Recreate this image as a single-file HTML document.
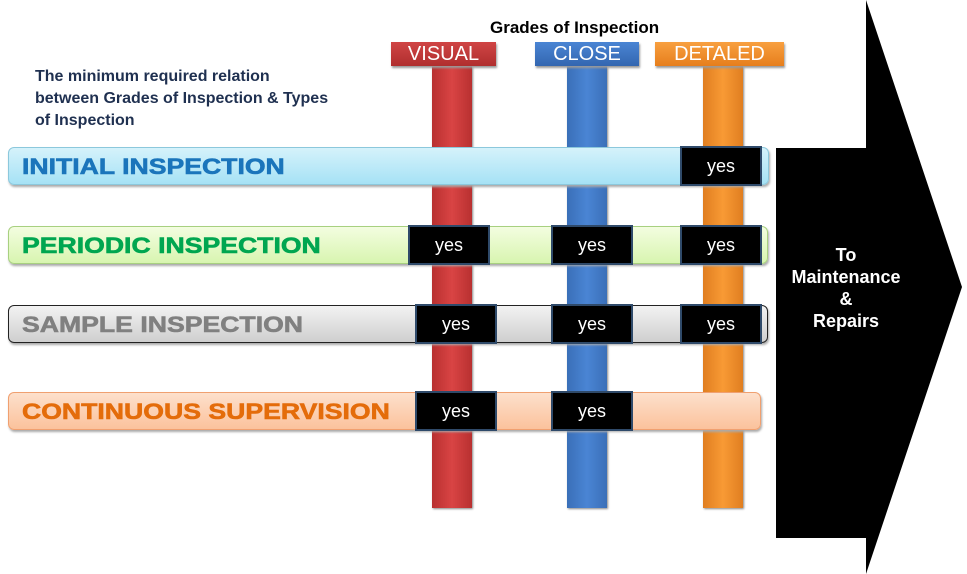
<!DOCTYPE html>
<html><head><style>
body{margin:0;width:967px;height:574px;background:#fff;position:relative;overflow:hidden;font-family:"Liberation Sans",sans-serif}
.a{position:absolute}
.hdr{position:absolute;top:42px;height:24px;color:#fff;font-size:20px;text-align:center;line-height:25px;box-shadow:1px 2px 2px #999}
.col{position:absolute;top:66px;width:40px;height:442px;box-shadow:1px 1px 2px #888}
.row{position:absolute;left:8px;height:38px;border-radius:6px;box-shadow:1px 2px 2px #aaa;font-weight:bold;font-size:22px;line-height:38px;padding-left:13px;box-sizing:border-box}
.row span{display:inline-block;transform:scaleX(1.21);transform-origin:left center;-webkit-text-stroke:0.6px currentColor}
.yes{position:absolute;background:#000;border:2px solid #2f4a6a;color:#fff;font-size:18px;text-align:center;line-height:36px;box-sizing:border-box;width:82px;height:40px}
</style></head><body>
<div class="a" style="left:490px;top:18px;font-weight:bold;font-size:17px">Grades of Inspection</div>
<div class="a" style="left:35px;top:66px;font-weight:bold;font-size:16px;color:#1f3050;line-height:22px">The minimum required relation<br>between Grades of Inspection &amp; Types<br>of Inspection</div>

<div class="col" style="left:432px;background:linear-gradient(90deg,#b83030,#d94444 50%,#b83030)"></div>
<div class="col" style="left:567px;background:linear-gradient(90deg,#3a6fb8,#4a85d4 50%,#3a6fb8)"></div>
<div class="col" style="left:703px;background:linear-gradient(90deg,#e07e20,#f89a35 50%,#e07e20)"></div>
<div class="hdr" style="left:391px;width:105px;background:linear-gradient(#d04545,#b02e2e)">VISUAL</div>
<div class="hdr" style="left:535px;width:104px;background:linear-gradient(#4a85d4,#3366b0)">CLOSE</div>
<div class="hdr" style="left:655px;width:129px;background:linear-gradient(#f8a040,#e67e1c)">DETALED</div>

<div class="row" style="top:147px;width:761px;background:linear-gradient(#d5f2fb,#a6e2f5);border:1px solid #8cc8dc;color:#1b75bb"><span>INITIAL INSPECTION</span></div>
<div class="row" style="top:226px;width:760px;background:linear-gradient(#f3fde0,#d8f5b0);border:1px solid #a8d080;color:#00a650"><span>PERIODIC INSPECTION</span></div>
<div class="row" style="top:305px;width:760px;background:linear-gradient(#f2f2f2,#cfcfcf);border:1px solid #222;color:#808080"><span>SAMPLE INSPECTION</span></div>
<div class="row" style="top:392px;width:753px;background:linear-gradient(#fde0cc,#fbc29c);border:1px solid #f0a070;color:#e46c0a"><span>CONTINUOUS SUPERVISION</span></div>

<div class="yes" style="left:680px;top:146px">yes</div>
<div class="yes" style="left:408px;top:225px">yes</div>
<div class="yes" style="left:551px;top:225px">yes</div>
<div class="yes" style="left:680px;top:225px">yes</div>
<div class="yes" style="left:415px;top:304px">yes</div>
<div class="yes" style="left:551px;top:304px">yes</div>
<div class="yes" style="left:680px;top:304px">yes</div>
<div class="yes" style="left:415px;top:391px">yes</div>
<div class="yes" style="left:551px;top:391px">yes</div>

<svg class="a" style="left:0;top:0" width="967" height="574"><polygon points="776,148 866,148 866,0 962,287 866,574 866,538 776,538" fill="#000"/></svg>
<div class="a" style="left:776px;top:244px;width:140px;text-align:center;color:#fff;font-weight:bold;font-size:18px;line-height:22px">To<br>Maintenance<br>&amp;<br>Repairs</div>
</body></html>
